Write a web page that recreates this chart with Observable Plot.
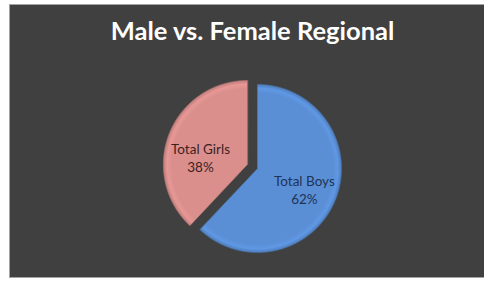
<!DOCTYPE html>
<html><head><meta charset="utf-8">
<script src="https://cdn.jsdelivr.net/npm/d3@7"></script>
<script src="https://cdn.jsdelivr.net/npm/@observablehq/plot@0.6"></script>
<style>
html,body{margin:0;padding:0;background:#fff;}
#wrap{position:relative;width:484px;height:282px;overflow:hidden;}
#panel{position:absolute;left:9px;top:4px;width:490px;height:274px;background:#404040;border:1px solid #a3a3a3;box-sizing:border-box;}
#chart{position:absolute;left:0;top:0;}
</style></head><body>
<div id="wrap"><div id="panel"></div><div id="chart"></div></div>
<script>
// ---- data ----
const title = "Male vs. Female Regional";
const categories = ["Total Boys", "Total Girls"];
const values = [62, 38];
const sliceColors = ["#5A8FD6", "#DA8F8D"];
const labelColors = ["#1E3355", "#3A1F1F"];

// ---- layout ----
const W = 484, H = 282, CX = 257, CY = 168, R = 84;
const explode = [0, 0.13];
const labelNudge = [2, 11];
const total = d3.sum(values);
const arcs = d3.pie().sort(null).startAngle(0).endAngle(2 * Math.PI)(values);

const slices = arcs.map((a, i) => {
  const mid = (a.startAngle + a.endAngle) / 2;
  const ox = explode[i] * Math.sin(mid), oy = -explode[i] * Math.cos(mid);
  const pts = [{x: ox, y: oy}];
  const n = Math.max(4, Math.ceil((a.endAngle - a.startAngle) / (Math.PI / 360)));
  for (let k = 0; k <= n; k++) {
    const t = a.startAngle + (a.endAngle - a.startAngle) * k / n;
    pts.push({x: ox + Math.sin(t), y: oy - Math.cos(t)});
  }
  return {i, mid, ox, oy, pts};
});

const labels = slices.map(s => ({
  x: s.ox + 0.6 * Math.sin(s.mid),
  y: s.oy - 0.6 * Math.cos(s.mid),
  text: `${categories[s.i]}\n${Math.round(values[s.i] / total * 100)}%`,
  color: labelColors[s.i],
  nudge: labelNudge[s.i]
}));

function gradients(index, scales) {
  const defs = d3.create("svg:defs");
  slices.forEach(s => {
    const c = d3.color(sliceColors[s.i]);
    const g = defs.append("radialGradient")
      .attr("id", "grad" + s.i)
      .attr("gradientUnits", "userSpaceOnUse")
      .attr("cx", scales.x(s.ox)).attr("cy", scales.y(s.oy))
      .attr("r", scales.x(1) - scales.x(0));
    [[0, c], [0.9, c], [0.955, c.brighter(0.18)], [0.99, c.darker(0.25)], [1, c.darker(0.6)]]
      .forEach(([o, col]) => g.append("stop").attr("offset", o).attr("stop-color", col.formatHex()));
  });
  return defs.node();
}

const marks = [gradients];
slices.forEach(s => {
  marks.push(Plot.line(s.pts, {
    x: "x", y: "y", curve: "linear-closed",
    fill: `url(#grad${s.i})`,
    stroke: d3.color(sliceColors[s.i]).darker(0.4).formatHex(),
    strokeWidth: 0.6
  }));
});
labels.forEach(l => {
  marks.push(Plot.text([l], {
    x: "x", y: "y", text: "text", fill: "color",
    fontSize: 13.5, lineHeight: 1.33, dy: l.nudge
  }));
});
marks.push(Plot.text([title], {
  frameAnchor: "top", lineAnchor: "middle", dy: 31, dx: 10,
  fill: "#ffffff", fontSize: 25.5, fontWeight: "bold"
}));

const chart = Plot.plot({
  width: W, height: H, margin: 0,
  x: {domain: [-CX / R, (W - CX) / R], range: [0, W], axis: null},
  y: {domain: [-CY / R, (H - CY) / R], range: [0, H], axis: null},
  style: {background: "transparent", fontFamily: "Lato, 'Open Sans', sans-serif"},
  marks
});
document.getElementById("chart").appendChild(chart);
</script>
</body></html>
